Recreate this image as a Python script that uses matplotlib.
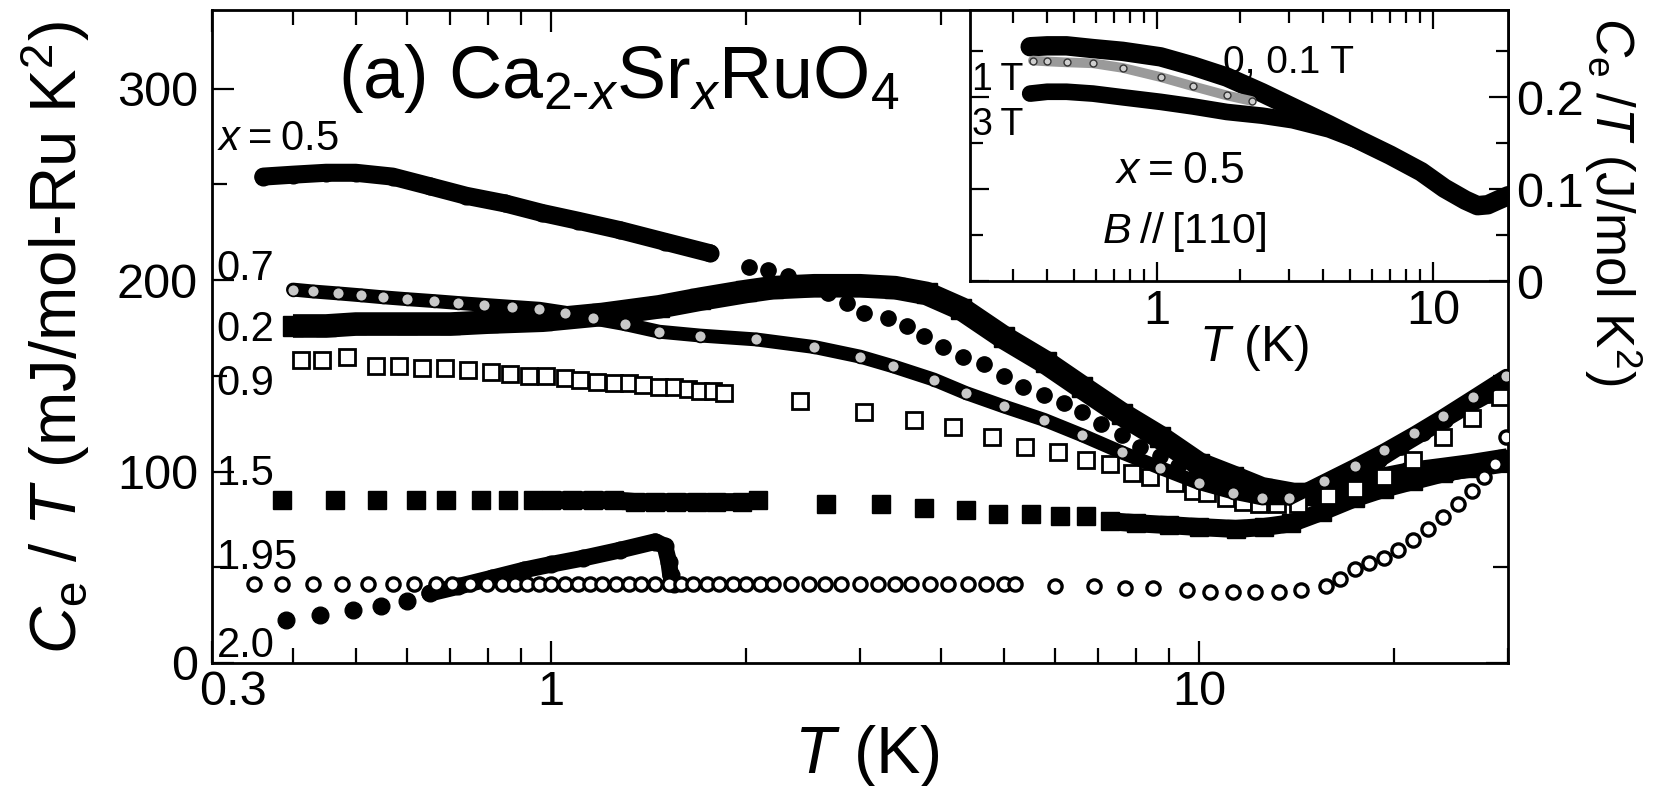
import matplotlib.pyplot as plt
from matplotlib.ticker import FixedLocator, NullFormatter
from matplotlib.transforms import ScaledTranslation

plt.rcParams['font.family'] = ['Liberation Sans', 'DejaVu Sans']
plt.rcParams['mathtext.fontset'] = 'custom'
plt.rcParams['mathtext.rm'] = 'Liberation Sans'
plt.rcParams['mathtext.it'] = 'Liberation Sans:italic'
plt.rcParams['mathtext.bf'] = 'Liberation Sans:bold'

TS = '\u2009'  # thin space, keeps "x = 0.5" tight

# ---- main panel: Ce/T (mJ/mol-Ru K^2) vs T (K) ----
# x = 0.5, filled circles
t05_low = [0.36, 0.40, 0.45, 0.50, 0.57, 0.65, 0.74, 0.85, 0.97, 1.10, 1.28, 1.50, 1.76]
c05_low = [254, 255, 256, 256, 254, 249, 244, 240, 235, 231, 226, 220, 214]
t05_mid = [2.02, 2.16, 2.32, 2.50, 2.68, 2.86, 3.04, 3.31, 3.54, 3.76, 4.03, 4.32,
           4.66, 5.00, 5.35, 5.77, 6.20, 6.60, 7.07, 7.60, 8.10, 8.70, 9.30, 10.0]
c05_mid = [207, 205, 202, 198, 193, 188, 183, 180, 176, 171, 165, 160,
           156, 150, 144, 140, 136, 131, 125, 119, 113, 108, 103, 97]
t05_high = [10.0, 10.7, 11.4, 12.2, 13.0, 14.0, 15.0, 16.2, 17.5, 19.0, 20.5, 22.2, 24.0, 26.0, 28.0, 30.0]
c05_high = [97, 93, 90, 88, 87, 87, 89, 93, 99, 106, 113, 120, 127, 134, 140, 146]

# x = 0.7, open circles
t07 = [0.40, 0.43, 0.47, 0.51, 0.55, 0.60, 0.66, 0.72, 0.79, 0.87, 0.96, 1.05, 1.16,
       1.30, 1.47, 1.70, 2.07, 2.55, 3.00, 3.37, 3.90, 4.37, 5.00, 5.77, 6.60, 7.60,
       8.70, 10.0, 11.3, 12.5, 13.8, 15.6, 17.4, 19.3, 21.5, 23.8, 26.5, 29.8]
c07 = [195, 194, 193, 192, 191, 190, 189, 188, 187, 186, 185, 183, 180,
       177, 173, 171, 169, 165, 160, 155, 148, 141, 134, 127, 119, 110,
       102, 94, 89, 86, 86, 95, 103, 111, 120, 129, 139, 150]

# x = 0.2, filled squares
t02 = [0.40, 0.45, 0.50, 0.60, 0.70, 0.80, 0.97, 1.20, 1.47, 1.70, 2.00, 2.20, 2.55,
       3.00, 3.40, 3.80, 4.30, 5.00, 5.80, 6.60, 7.60, 8.70, 10.0, 11.3, 12.5, 14.0,
       15.5, 17.4, 19.3, 21.4, 23.8, 26.4, 30.0]
c02 = [176, 176, 177, 177, 177, 178, 179, 182, 186, 190, 194, 196, 197,
       197, 196, 193, 185, 170, 157, 144, 130, 118, 104, 97, 91, 88,
       88, 92, 96, 99, 101, 103, 106]

# x = 0.9, open squares
t09_low = [0.411, 0.444, 0.485, 0.537, 0.583, 0.633, 0.687, 0.745, 0.809, 0.865, 0.925, 0.983,
           1.05, 1.11, 1.18, 1.25, 1.32, 1.39, 1.47, 1.55, 1.63, 1.70, 1.78, 1.85]
c09_low = [158, 158, 160, 155, 155, 154, 154, 153, 152, 151, 150, 150,
           149, 148, 147, 146, 146, 145, 144, 144, 143, 142, 142, 141]
t09_high = [2.42, 3.04, 3.64, 4.17, 4.79, 5.40, 6.06, 6.70, 7.30, 7.90, 8.40, 9.20, 9.80,
            10.3, 11.0, 11.7, 12.4, 13.2, 14.2, 15.8, 17.4, 19.3, 21.4, 23.8, 26.4, 29.2]
c09_high = [137, 131, 127, 123, 118, 113, 110, 106, 104, 99, 97, 94, 90,
            89, 86, 84, 83, 83, 83, 87, 91, 97, 106, 118, 128, 139]

# x = 1.5, filled squares
t15_a = [0.385, 0.465, 0.54, 0.62, 0.69, 0.78, 0.86, 0.94]
c15_a = [85, 85, 85, 85, 85, 85, 85, 85]
t15_b = [1.00, 1.08, 1.16, 1.25, 1.35, 1.45, 1.56, 1.68, 1.80, 1.97]
c15_b = [85, 85, 85, 85, 84, 84, 84, 84, 84, 84]
t15_c = [2.09, 2.66, 3.23, 3.76, 4.37, 4.90, 5.50, 6.10, 6.70]
c15_c = [85, 83, 83, 81, 80, 78, 78, 77, 77]
t15_d = [7.30, 8.00, 9.00, 10.0, 11.4, 12.6, 13.9, 15.5, 17.4, 19.3, 21.4, 23.8, 26.4, 30.0]
c15_d = [74, 73, 72, 71, 70, 71, 73, 79, 86, 91, 95, 99, 102, 105]

# x = 1.95, open circles
t195 = [0.348, 0.385, 0.429, 0.476, 0.523, 0.571, 0.616, 0.664, 0.705, 0.750, 0.797,
        0.84, 0.88, 0.92, 0.96, 1.00, 1.05, 1.10, 1.15, 1.20, 1.26, 1.32, 1.38, 1.45,
        1.52, 1.59, 1.66, 1.74, 1.82, 1.91, 2.00, 2.10, 2.20, 2.35, 2.50, 2.65, 2.80,
        3.00, 3.20, 3.40, 3.60, 3.85, 4.10, 4.40, 4.70, 5.00, 5.20,
        6.0, 6.9, 7.7, 8.5, 9.6, 10.4, 11.3, 12.2, 13.3, 14.4, 15.7, 16.5, 17.4, 18.3,
        19.3, 20.3, 21.4, 22.6, 23.8, 25.1, 26.4, 27.5, 28.6, 29.8]
c195 = [41, 41, 41, 41, 41, 41, 41, 41, 41, 41, 41,
        41, 41, 41, 41, 41, 41, 41, 41, 41, 41, 41, 41, 41,
        41, 41, 41, 41, 41, 41, 41, 41, 41, 41, 41, 41, 41,
        41, 41, 41, 41, 41, 41, 41, 41, 41, 41,
        40, 40, 39, 39, 38, 37, 37, 37, 37, 38, 40, 44, 49, 52,
        55, 59, 64, 70, 76, 83, 90, 97, 104, 118]

# x = 2.0, filled circles
t20_a = [0.39, 0.44, 0.495, 0.546, 0.60]
c20_a = [22.5, 25, 27.7, 29.8, 32.6]
t20_b = [0.65, 0.72, 0.81, 0.91, 1.00, 1.12, 1.28, 1.45, 1.50, 1.52, 1.53, 1.55]
c20_b = [36.4, 40, 44.3, 48.6, 51.5, 54.7, 59, 63.4, 61, 53, 46, 41]

# curve labels: (text, baseline value)
labels = [(r'$x$' + TS + '=' + TS + '0.5', 268), ('0.7', 200), ('0.2', 168), ('0.9', 140),
          ('1.5', 93), ('1.95', 49), ('2.0', 3)]

# ---- inset: Ce/T (J/mol K^2) for x = 0.5, B // [110] ----
ti_0 = [0.347, 0.40, 0.47, 0.586, 0.75, 1.03, 1.35, 1.79, 2.4, 3.1, 4.2, 5.44, 7.0,
        9.06, 11.0, 13.1, 14.5, 15.8, 17.2, 18.8]
ci_0 = [0.255, 0.256, 0.256, 0.253, 0.250, 0.244, 0.234, 0.222, 0.205, 0.189, 0.170,
        0.153, 0.137, 0.119, 0.101, 0.088, 0.082, 0.083, 0.088, 0.093]
ti_1 = [0.355, 0.40, 0.47, 0.586, 0.75, 1.03, 1.35, 1.79, 2.2]
ci_1 = [0.240, 0.239, 0.238, 0.237, 0.232, 0.222, 0.212, 0.202, 0.196]
ti_3 = [0.347, 0.40, 0.47, 0.586, 0.75, 1.03, 1.35, 1.79, 2.4, 3.1, 4.2, 5.44]
ci_3 = [0.204, 0.206, 0.206, 0.204, 0.200, 0.195, 0.190, 0.184, 0.180, 0.175, 0.165, 0.152]

W, H = 1654, 786
fig = plt.figure(figsize=(W / 100, H / 100), dpi=100)


def band(a, t, c, lw, color='k', z=2, cap='round'):
    a.plot(t, c, '-', color=color, lw=lw, solid_capstyle=cap,
           solid_joinstyle='round', zorder=z)


ax = fig.add_axes([212 / W, 1 - 663 / H, 1296 / W, 653 / H])
ax.set_xscale('log')
ax.set_xlim(0.3, 30)
ax.set_ylim(0, 341)

# filled squares first, open symbols on top
band(ax, t15_b, c15_b, 13, cap='butt')
band(ax, t15_d, c15_d, 13, cap='butt')
for t, c in [(t15_a, c15_a), (t15_b, c15_b), (t15_c, c15_c), (t15_d, c15_d)]:
    ax.plot(t, c, 's', color='k', ms=13.5, ls='none', zorder=2)

band(ax, t02, c02, 17, cap='butt')
ax.plot(t02, c02, 's', color='k', ms=14, ls='none', zorder=2)

band(ax, t05_low, c05_low, 13)
band(ax, t05_high, c05_high, 11)
ax.plot(t05_low, c05_low, 'o', color='k', ms=12, zorder=3)
ax.plot(t05_mid, c05_mid, 'o', color='k', ms=11, ls='none', zorder=3)
ax.plot(t05_high, c05_high, 'o', color='k', ms=11, ls='none', zorder=3)

band(ax, t20_b, c20_b, 12, z=3)
ax.plot(t20_a, c20_a, 'o', color='k', ms=12, ls='none', zorder=3)
ax.plot(t20_b, c20_b, 'o', color='k', ms=12, ls='none', zorder=3)

ax.plot(t195, c195, 'o', ls='none', ms=9.5, mfc='white', mec='k', mew=2.4, zorder=4)

ax.plot(t09_low, c09_low, 's', ls='none', ms=12, mfc='white', mec='k', mew=2, zorder=4)
ax.plot(t09_high, c09_high, 's', ls='none', ms=12, mfc='white', mec='k', mew=2, zorder=4)

band(ax, t07, c07, 10, z=4)
ax.plot(t07, c07, 'o', ls='none', ms=8.5, mfc='#c8c8c8', mec='k', mew=1.2, zorder=5)

for txt, yb in labels:
    ax.text(0.305, yb, txt, fontsize=30, ha='left', va='baseline', zorder=6)

ax.xaxis.set_major_locator(FixedLocator([0.3, 1, 10]))
ax.set_xticklabels(['0.3', '1', '10'])
ax.xaxis.set_minor_locator(FixedLocator([0.4, 0.5, 0.6, 0.7, 0.8, 0.9,
                                         2, 3, 4, 5, 6, 7, 8, 9, 20, 30]))
ax.xaxis.set_minor_formatter(NullFormatter())
ax.yaxis.set_major_locator(FixedLocator([0, 100, 200, 300]))
ax.yaxis.set_minor_locator(FixedLocator([50, 150, 250]))
ax.tick_params(which='major', direction='in', length=16, width=1.6,
               top=True, right=True, labelsize=35)
ax.tick_params(which='minor', direction='in', length=11, width=1.6, top=True, right=True)
ax.tick_params(axis='x', which='major', pad=5)
ax.tick_params(axis='y', which='major', pad=10)
for s in ax.spines.values():
    s.set_linewidth(2)
lab03 = ax.get_xticklabels()[0]
lab03.set_transform(lab03.get_transform() + ScaledTranslation(0.21, 0, fig.dpi_scale_trans))

fig.text(338 / W, 1 - 98 / H, r'(a) Ca$_{2\text{-}x}$Sr$_x$RuO$_4$',
         fontsize=53, ha='left', va='baseline')
fig.text(867 / W, 1 - 773 / H, r'$T$ (K)', fontsize=48, ha='center', va='baseline')
fig.text(56 / W, 1 - 338 / H, r'$C_\mathrm{e}$ / $T$ (mJ/mol-Ru K$^2$)',
         fontsize=47, rotation=90, ha='center', va='center')

# ---- inset ----
axi = fig.add_axes([970 / W, 1 - 281 / H, 538 / W, 271 / H])
axi.set_zorder(5)
axi.set_facecolor('white')
axi.set_xscale('log')
axi.set_xlim(0.21, 18.7)
axi.set_ylim(0, 0.295)

band(axi, ti_0, ci_0, 14)
axi.plot(ti_0, ci_0, 'o', color='k', ms=9, ls='none')
band(axi, ti_3, ci_3, 12)
axi.plot(ti_3, ci_3, 'o', color='k', ms=8, ls='none')
band(axi, ti_1, ci_1, 7, color='#9a9a9a', z=3)
axi.plot(ti_1, ci_1, 'o', ls='none', ms=5, mfc='#cfcfcf', mec='#333333', mew=1, zorder=4)

axi.text(0.214, 0.2076, '1' + TS + 'T', fontsize=27, ha='left', va='baseline')
axi.text(0.214, 0.1587, '3' + TS + 'T', fontsize=27, ha='left', va='baseline')
axi.text(1.735, 0.226, '0, 0.1 T', fontsize=28, ha='left', va='baseline')
axi.text(1.21, 0.1065, r'$x$' + TS + '=' + TS + '0.5', fontsize=32, ha='center', va='baseline')
axi.text(1.25, 0.0413, r'$B$' + TS + '//' + TS + '[110]', fontsize=31, ha='center', va='baseline')

axi.xaxis.set_major_locator(FixedLocator([1, 10]))
axi.set_xticklabels(['1', '10'])
axi.xaxis.set_minor_locator(FixedLocator([0.3, 0.4, 0.5, 0.6, 0.7, 0.8, 0.9,
                                          2, 3, 4, 5, 6, 7, 8, 9]))
axi.xaxis.set_minor_formatter(NullFormatter())
axi.yaxis.set_major_locator(FixedLocator([0, 0.1, 0.2]))
axi.set_yticklabels(['0', '0.1', '0.2'])
axi.yaxis.set_minor_locator(FixedLocator([0.05, 0.15, 0.25]))
axi.tick_params(which='both', left=True, right=True, top=True, bottom=True,
                labelleft=False, labelright=True, width=1.6, direction='in')
axi.tick_params(which='major', length=14, labelsize=35, pad=6)
axi.tick_params(which='minor', length=9)
for s in axi.spines.values():
    s.set_linewidth(2)

fig.text(1254 / W, 1 - 348 / H, r'$T$ (K)', fontsize=36, ha='center', va='center')
fig.text(1613 / W, 1 - 201 / H, r'$C_\mathrm{e}$ /$T$ (J/mol K$^2$)',
         fontsize=38, rotation=270, ha='center', va='center')

fig.savefig('out.png', dpi=100, facecolor='white')
